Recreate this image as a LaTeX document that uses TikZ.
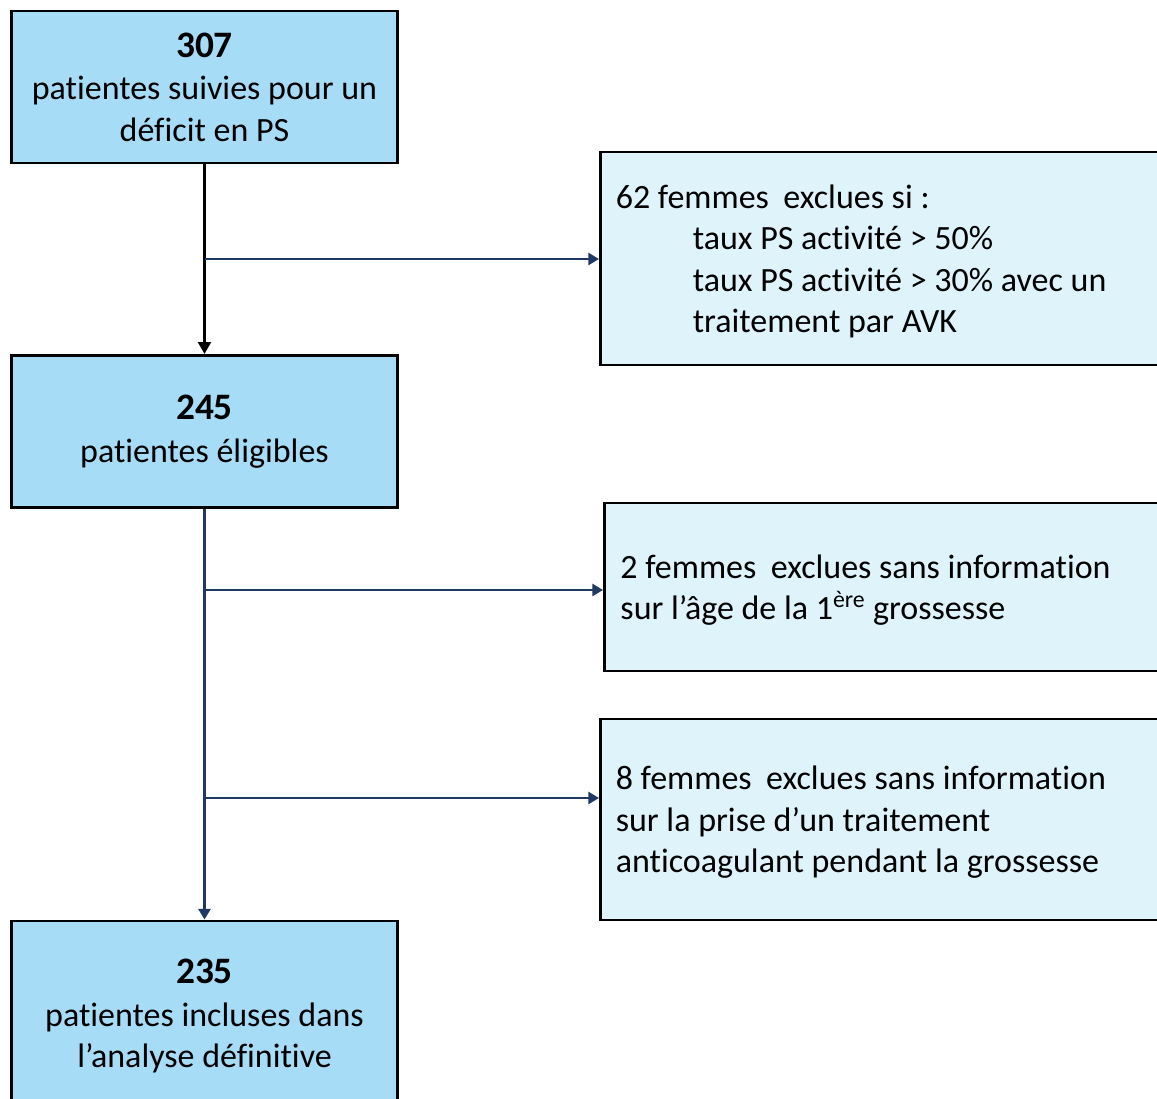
\documentclass[tikz,border=0pt]{standalone}
\usepackage{fontspec}
\setmainfont{Carlito}[Ligatures=NoCommon]
\usetikzlibrary{arrows.meta}
\definecolor{bigfill}{HTML}{A6DCF6}
\definecolor{smallfill}{HTML}{DFF3FB}
\definecolor{navy}{HTML}{1F3864}
\newcommand{\numf}{\fontsize{28}{34}\selectfont\bfseries}
\begin{document}
\begin{tikzpicture}[x=0.75pt,y=-0.75pt,
  bigbox/.style={draw=black, line width=2.2pt, fill=bigfill, minimum width=290pt, align=center,
    font=\fontsize{25.5}{31}\selectfont, inner sep=0pt},
  sidebox/.style={draw=black, line width=2.2pt, fill=smallfill, anchor=west, align=flush left,
    text width=428pt, inner xsep=11.5pt, inner ysep=0pt, font=\fontsize{25.5}{31}\selectfont},
  blkarrow/.style={draw=black, line width=2.2pt, -{Triangle[length=9pt,width=9.5pt]}},
  navarrow/.style={draw=navy, line width=2.1pt, -{Triangle[length=8pt,width=9pt]}}]
\useasboundingbox (0,0) rectangle (1157,1099);
\clip (0,0) rectangle (1157,1099);
\fill[white] (0,0) rectangle (1157,1099);
% left boxes
\node[bigbox, minimum height=114pt] (b1) at (204.5,87) {{\numf 307}\\[1pt]patientes suivies pour un\\déficit en PS};
\node[bigbox, minimum height=114pt] (b2) at (204.5,431.5) {{\numf 245}\\[1pt]patientes éligibles};
\node[bigbox, minimum height=142.5pt] (b3) at (204.5,1016) {{\numf 235}\\[1pt]patientes incluses dans\\l’analyse définitive};
% side boxes
\node[sidebox, minimum height=159.75pt] (r1) at (599,258.5) {\rule{0pt}{22pt}62 femmes\hspace{0.2em} exclues si :\\
\hspace*{57.75pt}taux PS activité > 50\%\\
\hspace*{57.75pt}taux PS activité > 30\% avec un\\
\hspace*{57.75pt}traitement par AVK};
\node[sidebox, minimum height=126pt, inner xsep=12pt] (r2) at (603,587) {\rule{0pt}{22pt}2 femmes\hspace{0.2em} exclues sans information\\sur l’âge de la 1\textsuperscript{ère} grossesse};
\node[sidebox, minimum height=150.75pt] (r3) at (599,819.5) {\rule{0pt}{22pt}8 femmes\hspace{0.2em} exclues sans information\\sur la prise d’un traitement\\anticoagulant pendant la grossesse};
% connectors
\coordinate (j1) at (204.5,259);
\coordinate (j2) at (204.5,590);
\coordinate (j3) at (204.5,798);
\draw[blkarrow] (b1.south) -- (b2.north);
\draw[navarrow] (b2.south) -- (b3.north);
\draw[navarrow] (j1) -- (j1 -| r1.west);
\draw[navarrow] (j2) -- (j2 -| r2.west);
\draw[navarrow] (j3) -- (j3 -| r3.west);
\end{tikzpicture}
\end{document}
